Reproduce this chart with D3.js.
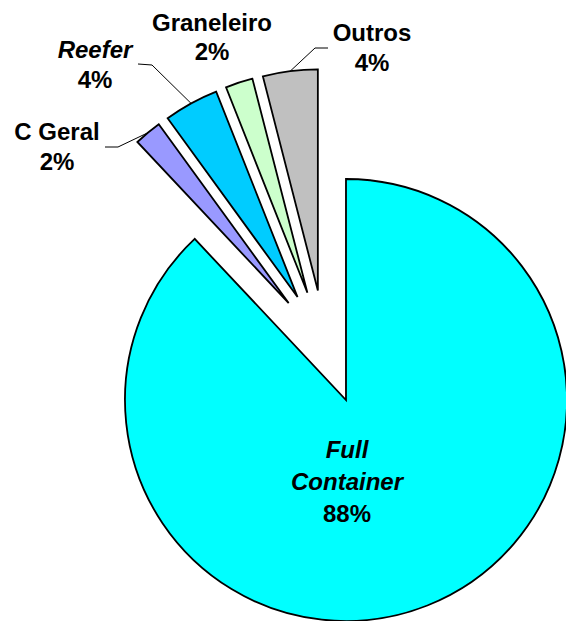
<!DOCTYPE html>
<html>
<head>
<meta charset="utf-8">
<script src="https://cdn.jsdelivr.net/npm/d3@7"></script>
<style>
  body { margin: 0; background: #fff; }
  text { font-family: "Liberation Sans", Arial, sans-serif; font-weight: bold; }
</style>
</head>
<body>
<div id="viz"></div>
<script>
// data
var categories = ["Full Container", "C Geral", "Reefer", "Graneleiro", "Outros"];
var shares = [88, 2, 4, 2, 4];
var nameLines = [["Full", "Container"], ["C Geral"], ["Reefer"], ["Graneleiro"], ["Outros"]];
var italicName = [true, false, true, false, false];
var pctLabels = ["88%", "2%", "4%", "2%", "4%"];

var width = 566,
    height = 621,
    radius = 221,
    explode = 57,
    cx = 325,
    cy = 347;

var colors = {
    "Full Container": "#00ffff",
    "C Geral": "#9999ff",
    "Reefer": "#00ccff",
    "Graneleiro": "#ccffcc",
    "Outros": "#c0c0c0"
};

// label placement (first baseline, centre x) and leader elbows, page coords
var labelLayout = {
    "Full Container": { x: 347, y: 458, gap: 32 },
    "C Geral":        { x: 57,  y: 140, gap: 30, leader: [[105, 147], [118, 147]] },
    "Reefer":         { x: 95,  y: 58,  gap: 30, leader: [[138, 64], [152, 65]] },
    "Graneleiro":     { x: 212, y: 31,  gap: 29 },
    "Outros":         { x: 372, y: 41,  gap: 30, leader: [[328, 48], [315, 48]] }
};

var svg = d3.select("#viz").append("svg")
    .attr("width", width)
    .attr("height", height);

var pie = d3.pie().sort(null).value(function(d) { return d; });
var arcs = pie(shares);

var arc = d3.arc().innerRadius(0).outerRadius(radius);

function shift(d) {
    var mid = (d.startAngle + d.endAngle) / 2;
    return [cx + Math.sin(mid) * explode, cy - Math.cos(mid) * explode];
}

// Slices
svg.selectAll("path.slice")
    .data(arcs)
    .enter().append("path")
    .attr("class", "slice")
    .attr("transform", function(d) { var s = shift(d); return "translate(" + s[0] + "," + s[1] + ")"; })
    .attr("d", arc)
    .style("fill", function(d, i) { return colors[categories[i]]; })
    .style("stroke", "black")
    .style("stroke-width", 1.8)
    .style("stroke-linejoin", "miter");

// Leader lines
arcs.forEach(function(d, i) {
    var lay = labelLayout[categories[i]];
    if (!lay.leader) return;
    var s = shift(d);
    var mid = (d.startAngle + d.endAngle) / 2;
    var end = [s[0] + Math.sin(mid) * radius, s[1] - Math.cos(mid) * radius];
    var pts = lay.leader.concat([end]);
    svg.append("path")
        .attr("d", d3.line()(pts))
        .style("fill", "none")
        .style("stroke", "black")
        .style("stroke-width", 1);
});

// Labels
arcs.forEach(function(d, i) {
    var lay = labelLayout[categories[i]];
    var t = svg.append("text")
        .attr("text-anchor", "middle")
        .style("font-size", "24px")
        .style("fill", "black");
    var lines = nameLines[i];
    lines.forEach(function(line, j) {
        t.append("tspan")
            .attr("x", lay.x)
            .attr("y", lay.y + j * lay.gap)
            .style("font-style", italicName[i] ? "italic" : "normal")
            .text(line);
    });
    t.append("tspan")
        .attr("x", lay.x)
        .attr("y", lay.y + lines.length * lay.gap)
        .text(pctLabels[i]);
});
</script>
</body>
</html>
